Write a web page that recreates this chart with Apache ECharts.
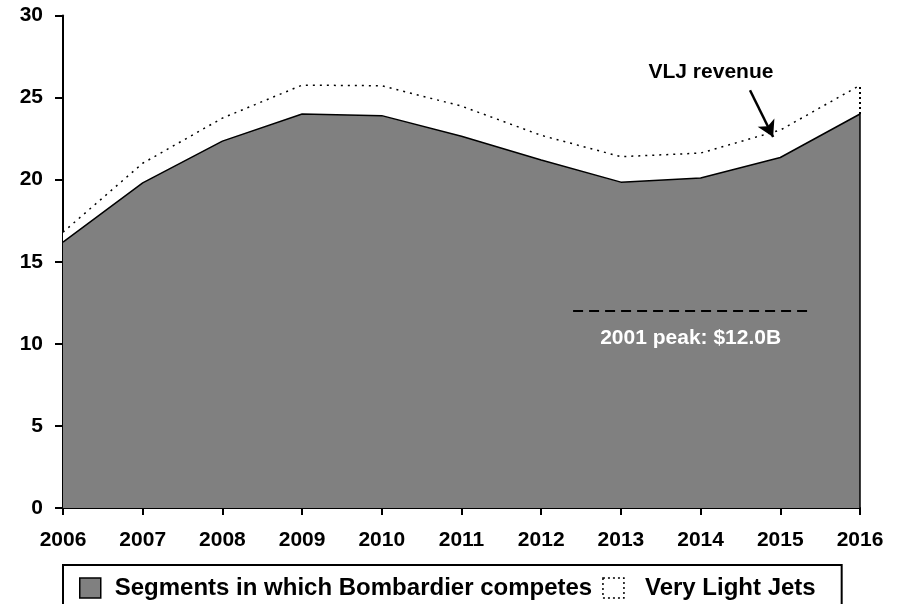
<!DOCTYPE html>
<html>
<head>
<meta charset="utf-8">
<script src="https://cdn.jsdelivr.net/npm/echarts@6/dist/echarts.min.js"></script>
<style>
  html, body { margin: 0; padding: 0; background: #fff; }
  #chart { width: 897px; height: 604px; }
</style>
</head>
<body>
<div id="chart"></div>
<script>
// Business jet market revenue, $B
const years = [2006, 2007, 2008, 2009, 2010, 2011, 2012, 2013, 2014, 2015, 2016];
const segments = [16.2, 19.8, 22.35, 24.0, 23.9, 22.65, 21.2, 19.85, 20.1, 21.35, 24.0];
const vlj = [0.6, 1.2, 1.4, 1.76, 1.82, 1.83, 1.5, 1.55, 1.52, 1.67, 1.75];
const yTicks = [0, 5, 10, 15, 20, 25, 30];
const seriesNames = ['Segments in which Bombardier competes', 'Very Light Jets'];
const peak2001 = 12.0;
const vljLabel = 'VLJ revenue';

const FONT = '"Liberation Sans", Arial, Helvetica, sans-serif';
const lastYear = years[years.length - 1];
const lastSeg = segments[segments.length - 1];
// VLJ band sits on top of the segments: its upper edge is the running total
const totals = segments.map((s, i) => s + vlj[i]);
const lastTotal = totals[totals.length - 1];

const chart = echarts.init(document.getElementById('chart'), null, { renderer: 'canvas' });

chart.setOption({
  animation: false,
  backgroundColor: '#fff',
  grid: { left: 63, right: 37, top: 15.5, bottom: 96, containLabel: false },
  xAxis: {
    type: 'value',
    min: years[0],
    max: lastYear,
    interval: 1,
    axisLine: { show: true, lineStyle: { color: '#000', width: 2 } },
    axisTick: { show: true, inside: false, length: 7, lineStyle: { color: '#000', width: 2 } },
    axisLabel: {
      margin: 22,
      color: '#000',
      fontFamily: FONT,
      fontWeight: 'bold',
      fontSize: 21,
      formatter: v => String(v)
    },
    splitLine: { show: false }
  },
  yAxis: {
    type: 'value',
    min: yTicks[0],
    max: yTicks[yTicks.length - 1],
    interval: yTicks[1] - yTicks[0],
    axisLine: { show: true, lineStyle: { color: '#000', width: 2 } },
    axisTick: { show: true, inside: false, length: 8, lineStyle: { color: '#000', width: 2 } },
    axisLabel: {
      margin: 20,
      color: '#000',
      fontFamily: FONT,
      fontWeight: 'bold',
      fontSize: 21
    },
    splitLine: { show: false }
  },
  legend: {
    left: 63,
    top: 565,
    orient: 'horizontal',
    padding: [11, 26, 30, 16],
    borderColor: '#000',
    borderWidth: 2,
    backgroundColor: '#fff',
    itemWidth: 21,
    itemHeight: 20,
    itemGap: 10,
    selectedMode: false,
    textStyle: {
      color: '#000',
      fontFamily: FONT,
      fontWeight: 'bold',
      fontSize: 24,
      padding: [0, 0, 0, 9]
    },
    data: [
      {
        name: seriesNames[0],
        icon: 'rect',
        itemStyle: { color: '#808080', borderColor: '#000', borderWidth: 1.5 }
      },
      {
        name: seriesNames[1],
        icon: 'rect',
        itemStyle: { color: '#fff', borderColor: '#000', borderWidth: 1.5, borderType: [2, 3] },
        textStyle: { padding: [0, 0, 0, 16] }
      }
    ]
  },
  series: [
    {
      // VLJ band: white fill below the dotted running total, covered by the segments area
      name: seriesNames[1],
      type: 'line',
      color: '#fff',
      data: years.map((y, i) => [y, totals[i]]),
      symbol: 'none',
      lineStyle: { color: '#000', width: 1.5, type: [2, 5] },
      areaStyle: { color: '#fff', opacity: 1 },
      z: 2,
      markLine: {
        silent: true,
        symbol: ['none', 'none'],
        animation: false,
        data: [
          // right edge of the VLJ band
          [
            { coord: [lastYear, lastSeg], lineStyle: { color: '#000', width: 2, type: [2, 3] }, label: { show: false } },
            { coord: [lastYear, lastTotal] }
          ],
          // pointer to the VLJ band
          [
            {
              coord: [2014.62, 25.45],
              symbol: 'none',
              lineStyle: { color: '#000', width: 2.5, type: 'solid' },
              label: { show: false }
            },
            { coord: [2014.91, 22.6], symbol: 'arrow', symbolSize: [14, 16] }
          ]
        ]
      },
      markPoint: {
        silent: true,
        symbol: 'rect',
        symbolSize: 0,
        data: [
          {
            coord: [2014.13, 26.55],
            label: {
              show: true,
              position: 'inside',
              formatter: vljLabel,
              color: '#000',
              fontFamily: FONT,
              fontWeight: 'bold',
              fontSize: 21
            }
          }
        ]
      }
    },
    {
      name: seriesNames[0],
      type: 'line',
      color: '#808080',
      data: years.map((y, i) => [y, segments[i]]),
      symbol: 'none',
      lineStyle: { color: '#000', width: 1.5 },
      areaStyle: { color: '#808080', opacity: 1 },
      z: 3,
      markLine: {
        silent: true,
        symbol: ['none', 'none'],
        animation: false,
        data: [
          // right edge of the shaded area
          [
            { coord: [lastYear, 0], lineStyle: { color: '#000', width: 1.5, type: 'solid' }, label: { show: false } },
            { coord: [lastYear, lastSeg] }
          ],
          // 2001 peak reference line
          [
            {
              coord: [2012.4, peak2001],
              lineStyle: { color: '#000', width: 2, type: [10, 6] },
              label: {
                show: true,
                position: 'insideMiddleBottom',
                distance: 17,
                formatter: '2001 peak: $' + peak2001.toFixed(1) + 'B',
                color: '#fff',
                fontFamily: FONT,
                fontWeight: 'bold',
                fontSize: 21
              }
            },
            { coord: [2015.35, peak2001] }
          ]
        ]
      }
    }
  ]
});
</script>
</body>
</html>
